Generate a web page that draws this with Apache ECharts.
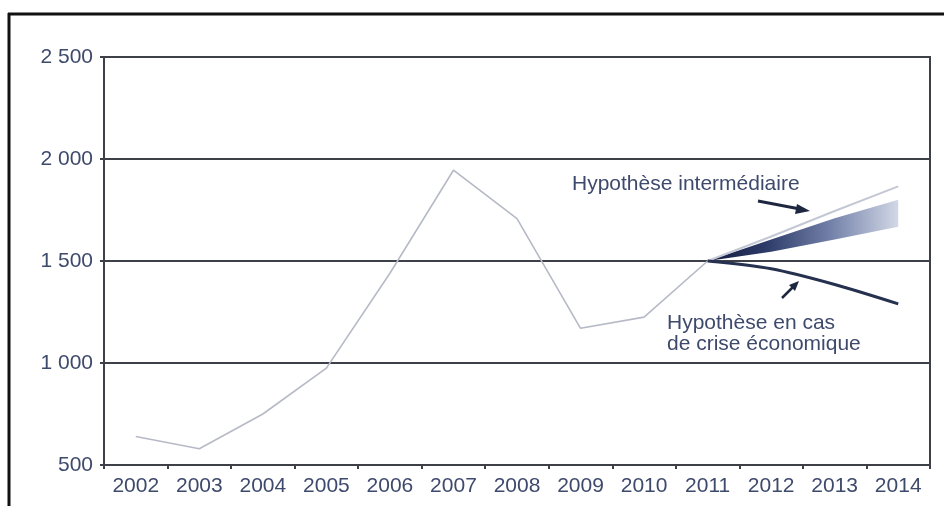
<!DOCTYPE html>
<html>
<head>
<meta charset="utf-8">
<script src="https://cdn.jsdelivr.net/npm/echarts@6/dist/echarts.min.js"></script>
<style>
  html, body { margin: 0; padding: 0; background: #ffffff; }
  #chart { width: 945px; height: 506px; }
</style>
</head>
<body>
<div id="chart"></div>
<script>
// Years on the horizontal axis
const years = ['2002','2003','2004','2005','2006','2007','2008','2009','2010','2011','2012','2013','2014'];

// Observed series 2002-2011
const observed = [640, 580, 750, 975, 1440, 1945, 1708, 1170, 1225, 1500, null, null, null];

// Intermediate hypothesis: upper light line and the shaded cone edges
const intermediateLine = [null, null, null, null, null, null, null, null, null, 1500, 1620, 1745, 1866];
const coneLower = [null, null, null, null, null, null, null, null, null, 1500, 1545, 1605, 1668];
const coneUpper = [null, null, null, null, null, null, null, null, null, 1500, 1605, 1710, 1800];

// Economic-crisis hypothesis
const crisis = [null, null, null, null, null, null, null, null, null, 1500, 1462, 1385, 1290];

// Value axis ticks
const yTicks = [500, 1000, 1500, 2000, 2500];

const FONT = "'Liberation Sans', Arial, Helvetica, sans-serif";
const INK = '#3e4a6c';
const GRID = '#3e4048';

const coneBand = coneUpper.map((v, i) => (v == null || coneLower[i] == null) ? null : v - coneLower[i]);

const chart = echarts.init(document.getElementById('chart'), null, { renderer: 'canvas' });

chart.setOption({
  backgroundColor: '#ffffff',
  animation: false,
  grid: {
    left: 104, right: 15, top: 57, bottom: 41,
    show: true, borderColor: GRID, borderWidth: 2, backgroundColor: 'transparent'
  },
  xAxis: {
    type: 'category',
    data: years,
    boundaryGap: true,
    axisLine: { lineStyle: { color: GRID, width: 2 } },
    axisTick: { show: true, length: 4, lineStyle: { color: GRID, width: 2 } },
    axisLabel: { color: INK, fontFamily: FONT, fontSize: 21, margin: 11, interval: 0 }
  },
  yAxis: {
    type: 'value',
    min: yTicks[0], max: yTicks[yTicks.length - 1], interval: 500,
    axisLine: { show: true, lineStyle: { color: GRID, width: 2 } },
    axisTick: { show: true, length: 4, lineStyle: { color: GRID, width: 2 } },
    splitLine: { lineStyle: { color: GRID, width: 2 } },
    axisLabel: {
      color: INK, fontFamily: FONT, fontSize: 21, margin: 11,
      formatter: v => String(v).replace(/\B(?=(\d{3})+(?!\d))/g, ' ')
    }
  },
  series: [
    {
      name: 'cone-base', type: 'line', data: coneLower, stack: 'cone',
      symbol: 'none', lineStyle: { width: 0, opacity: 0 }, z: 2
    },
    {
      name: 'cone', type: 'line', data: coneBand, stack: 'cone',
      symbol: 'none', lineStyle: { width: 0, opacity: 0 }, z: 2,
      areaStyle: {
        opacity: 1,
        color: new echarts.graphic.LinearGradient(0, 0, 1, 0, [
          { offset: 0, color: '#141c3c' },
          { offset: 0.3, color: '#2c3a68' },
          { offset: 0.65, color: '#7482aa' },
          { offset: 1, color: '#d2d8e6' }
        ])
      }
    },
    {
      name: 'intermediate', type: 'line', data: intermediateLine,
      symbol: 'none', lineStyle: { color: '#c4c8d4', width: 2 }, z: 3
    },
    {
      name: 'observed', type: 'line', data: observed,
      symbol: 'none', lineStyle: { color: '#b6bac6', width: 1.6 }, z: 3
    },
    {
      name: 'crisis', type: 'line', data: crisis, smooth: 0.3,
      symbol: 'none', lineStyle: { color: '#263150', width: 3 }, z: 4
    }
  ],
  graphic: [
    // page frame
    { type: 'line', shape: { x1: 8, y1: 14, x2: 944, y2: 14 }, style: { stroke: '#111', lineWidth: 3 }, z: 10 },
    { type: 'line', shape: { x1: 9, y1: 13, x2: 9, y2: 506 }, style: { stroke: '#111', lineWidth: 3 }, z: 10 },
    // annotation labels
    { type: 'text', left: 572, top: 174, z: 10,
      style: { text: 'Hypothèse intermédiaire', fill: INK, font: '21px ' + FONT } },
    { type: 'text', left: 667, top: 313, z: 10,
      style: { text: 'Hypothèse en cas\nde crise économique', fill: INK, font: '21px ' + FONT, lineHeight: 21 } },
    // arrows
    { type: 'line', shape: { x1: 758, y1: 201, x2: 800, y2: 209 }, style: { stroke: '#1e2740', lineWidth: 3 }, z: 10 },
    { type: 'polygon', shape: { points: [[810, 211], [797, 204], [795, 214]] }, style: { fill: '#1e2740' }, z: 10 },
    { type: 'line', shape: { x1: 782, y1: 298, x2: 793, y2: 287 }, style: { stroke: '#1e2740', lineWidth: 2.5 }, z: 10 },
    { type: 'polygon', shape: { points: [[799, 281], [789, 285], [795, 291]] }, style: { fill: '#1e2740' }, z: 10 }
  ]
});
</script>
</body>
</html>
